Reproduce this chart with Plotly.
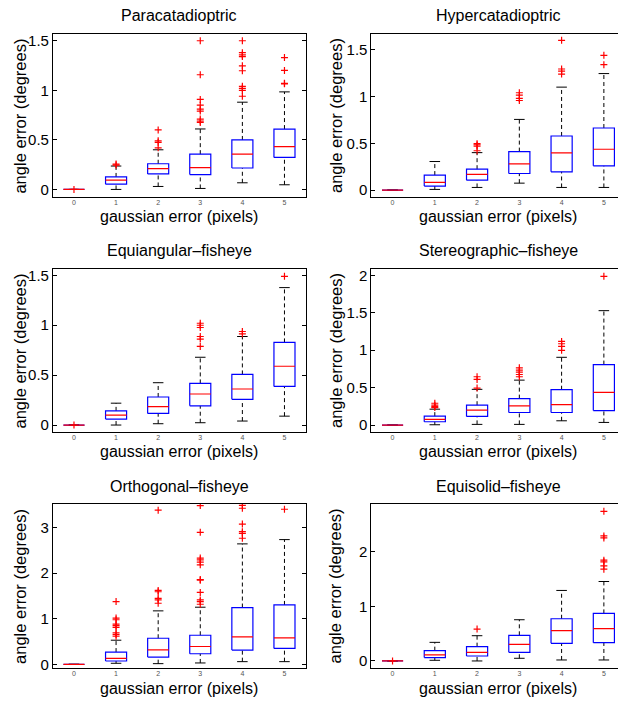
import plotly.graph_objects as go

# The page body has an 8px default margin; compensate so the figure lands at the target pixels.
OFF = 8
W, H = 626 - OFF, 702 - OFF
cats = [0, 1, 2, 3, 4, 5]
tick_text = ["0", "1", "2", "3", "4", "5"]
titles = ["Paracatadioptric", "Hypercatadioptric", "Equiangular\u2013fisheye",
          "Stereographic\u2013fisheye", "Orthogonal\u2013fisheye", "Equisolid\u2013fisheye"]

# ---- Paracatadioptric ----
para_q1 = [0, 0.053, 0.156, 0.150, 0.216, 0.323]
para_med = [0, 0.093, 0.210, 0.220, 0.356, 0.432]
para_q3 = [0, 0.126, 0.259, 0.356, 0.499, 0.609]
para_lo = [0, 0.0, 0.030, 0.010, 0.067, 0.047]
para_hi = [0, 0.236, 0.400, 0.610, 0.880, 0.984]
para_out = [[0.0], [0.256, 0.246], [0.60, 0.49, 0.475, 0.42],
            [1.50, 1.157, 0.908, 0.85, 0.81, 0.79, 0.71, 0.69, 0.675],
            [1.50, 1.38, 1.357, 1.34, 1.247, 1.197, 1.04, 1.02, 1.0, 0.94],
            [1.33, 1.20, 1.07, 1.065]]

# ---- Hypercatadioptric ----
hyper_q1 = [0, 0.043, 0.106, 0.177, 0.195, 0.259]
hyper_med = [0, 0.082, 0.167, 0.280, 0.397, 0.436]
hyper_q3 = [0, 0.160, 0.223, 0.411, 0.578, 0.663]
hyper_lo = [0, 0.007, 0.028, 0.074, 0.028, 0.028]
hyper_hi = [0, 0.305, 0.400, 0.755, 1.100, 1.245]
hyper_out = [[], [], [0.496, 0.482, 0.468, 0.42],
             [1.04, 1.014, 0.979, 0.957],
             [1.60, 1.294, 1.27, 1.24],
             [1.44, 1.34]]

# ---- Equiangular-fisheye ----
equi_q1 = [0, 0.060, 0.116, 0.192, 0.258, 0.387]
equi_med = [0, 0.099, 0.185, 0.311, 0.361, 0.589]
equi_q3 = [0, 0.142, 0.281, 0.417, 0.507, 0.828]
equi_lo = [0, 0.0, 0.013, 0.023, 0.040, 0.089]
equi_hi = [0, 0.219, 0.424, 0.679, 0.887, 1.377]
equi_out = [[0.0], [], [],
            [1.02, 1.0, 0.977, 0.887, 0.861, 0.788],
            [0.937, 0.914],
            [1.49]]

# ---- Stereographic-fisheye ----
stereo_q1 = [0, 0.044, 0.115, 0.168, 0.168, 0.194]
stereo_med = [0, 0.075, 0.199, 0.256, 0.274, 0.437]
stereo_q3 = [0, 0.119, 0.265, 0.353, 0.472, 0.808]
stereo_lo = [0, 0.004, 0.009, 0.009, 0.057, 0.035]
stereo_hi = [0, 0.212, 0.477, 0.600, 0.905, 1.528]
stereo_out = [[], [0.291, 0.265, 0.247, 0.234], [0.645, 0.609, 0.494],
              [0.764, 0.733, 0.706, 0.675, 0.645],
              [1.117, 1.086, 1.05, 0.998],
              [1.987]]

# ---- Orthogonal-fisheye ----
ortho_q1 = [0, 0.072, 0.159, 0.231, 0.311, 0.347]
ortho_med = [0, 0.130, 0.318, 0.390, 0.600, 0.578]
ortho_q3 = [0, 0.268, 0.571, 0.636, 1.244, 1.301]
ortho_lo = [0, 0.022, 0.014, 0.029, 0.058, 0.058]
ortho_hi = [0, 0.528, 1.171, 1.251, 2.639, 2.733]
ortho_out = [[], [1.374, 1.012, 0.976, 0.882, 0.846, 0.81, 0.687, 0.651, 0.615],
             [3.377, 1.62, 1.59, 1.446, 1.41, 1.338],
             [3.478, 2.892, 2.328, 2.29, 2.24, 2.18, 1.858, 1.844, 1.576, 1.41, 1.374, 1.316],
             [3.485, 3.42, 3.073, 2.907, 2.87, 2.762],
             [3.398]]

# ---- Equisolid-fisheye ----
solid_q1 = [0, 0.061, 0.091, 0.159, 0.323, 0.335]
solid_med = [0, 0.110, 0.159, 0.305, 0.555, 0.591]
solid_q3 = [0, 0.189, 0.262, 0.470, 0.774, 0.872]
solid_lo = [0, 0.012, 0.0, 0.049, 0.018, 0.018]
solid_hi = [0, 0.341, 0.463, 0.756, 1.293, 1.457]
solid_out = [[0.0], [], [0.585], [], [],
             [2.744, 2.293, 2.256, 1.848, 1.817, 1.744, 1.683]]

panels = [
    (para_q1, para_med, para_q3, para_lo, para_hi, para_out),
    (hyper_q1, hyper_med, hyper_q3, hyper_lo, hyper_hi, hyper_out),
    (equi_q1, equi_med, equi_q3, equi_lo, equi_hi, equi_out),
    (stereo_q1, stereo_med, stereo_q3, stereo_lo, stereo_hi, stereo_out),
    (ortho_q1, ortho_med, ortho_q3, ortho_lo, ortho_hi, ortho_out),
    (solid_q1, solid_med, solid_q3, solid_lo, solid_hi, solid_out),
]
y_ranges = [[-0.08, 1.57], [-0.078, 1.67], [-0.073, 1.566],
            [-0.097, 2.088], [-0.087, 3.52], [-0.134, 2.884]]
y_ticks = [[0, 0.5, 1, 1.5], [0, 0.5, 1, 1.5], [0, 0.5, 1, 1.5],
           [0, 0.5, 1, 1.5, 2], [0, 1, 2, 3], [0, 1, 2]]

# layout geometry (target window pixels)
col_x = [(53, 306), (372, 626)]
row_y = [(32, 197), (269, 434), (506, 672)]
title_y = [14, 250.7, 488.8]
xlab_y = [216, 453.5, 692]
ylab_x = [20, 336]

def px(x):
    return (x - OFF) / W

def py(y):
    return 1 - (y - OFF) / H

FONT = "Liberation Sans, Arial, Helvetica, sans-serif"
BW, CW = 0.25, 0.125

fig = go.Figure()
annotations = []
layout = {}
for i, (q1, med, q3, lo, hi, outs) in enumerate(panels):
    r, c = divmod(i, 2)
    n = i + 1
    xa = "x" if n == 1 else f"x{n}"
    ya = "y" if n == 1 else f"y{n}"
    wx, wy, cx, cy, bx, by, mx, my, ox, oy = ([] for _ in range(10))
    for k, cat in enumerate(cats):
        wx += [cat, cat, None, cat, cat, None]
        wy += [q3[k], hi[k], None, lo[k], q1[k], None]
        cx += [cat - CW, cat + CW, None, cat - CW, cat + CW, None]
        cy += [hi[k], hi[k], None, lo[k], lo[k], None]
        bx += [cat - BW, cat + BW, cat + BW, cat - BW, cat - BW, None]
        by += [q1[k], q1[k], q3[k], q3[k], q1[k], None]
        mx += [cat - BW, cat + BW, None]
        my += [med[k], med[k], None]
        for v in outs[k]:
            ox.append(cat)
            oy.append(v)
    common = dict(xaxis=xa, yaxis=ya, showlegend=False, hoverinfo="skip", mode="lines")
    fig.add_trace(go.Scatter(x=wx, y=wy, line=dict(color="black", width=1, dash="4px,3px"), **common))
    fig.add_trace(go.Scatter(x=cx, y=cy, line=dict(color="black", width=1), **common))
    fig.add_trace(go.Scatter(x=bx, y=by, line=dict(color="#0000ff", width=1.2), **common))
    fig.add_trace(go.Scatter(x=mx, y=my, line=dict(color="#ff0000", width=1.2), **common))
    fig.add_trace(go.Scatter(x=ox, y=oy, xaxis=xa, yaxis=ya, mode="markers", showlegend=False,
                             marker=dict(symbol="cross-thin", size=5, line=dict(color="#ff0000", width=1.2))))

    x0, x1 = col_x[c]
    y0, y1 = row_y[r]
    layout["xaxis" if n == 1 else f"xaxis{n}"] = dict(
        domain=[px(x0), min(px(x1), 1.0)], anchor=ya, range=[-0.5, 5.5],
        tickvals=cats, ticktext=tick_text, ticks="", showgrid=False, zeroline=False,
        showline=True, mirror=True, linecolor="black", linewidth=1,
        ticklabelstandoff=-2,
        tickfont=dict(family=FONT, size=7, color="#555555"))
    layout["yaxis" if n == 1 else f"yaxis{n}"] = dict(
        domain=[py(y1), py(y0)], anchor=xa, range=y_ranges[i],
        tickvals=y_ticks[i], ticktext=[("%g" % t) for t in y_ticks[i]],
        ticks="inside", ticklen=4, tickcolor="black", showgrid=False, zeroline=False,
        showline=True, mirror="ticks", linecolor="black", linewidth=1,
        tickfont=dict(family=FONT, size=15, color="black"))

    xc = (x0 + x1) / 2
    annotations.append(dict(text=titles[i], x=px(xc), y=py(title_y[r]), xref="paper", yref="paper",
                            xanchor="center", yanchor="middle", showarrow=False,
                            font=dict(family=FONT, size=16, color="black")))
    annotations.append(dict(text="gaussian error (pixels)", x=px(xc), y=py(xlab_y[r]),
                            xref="paper", yref="paper", xanchor="center", yanchor="middle",
                            showarrow=False, font=dict(family=FONT, size=16, color="black")))
    annotations.append(dict(text="angle error (degrees)", x=px(ylab_x[c]), y=py((y0 + y1) / 2),
                            xref="paper", yref="paper", xanchor="center", yanchor="middle",
                            textangle=-90, showarrow=False,
                            font=dict(family=FONT, size=16.5, color="black")))

fig.update_layout(width=W, height=H, margin=dict(l=0, r=0, t=0, b=0),
                  paper_bgcolor="white", plot_bgcolor="white",
                  annotations=annotations, **layout)
fig.write_html("out.html")
